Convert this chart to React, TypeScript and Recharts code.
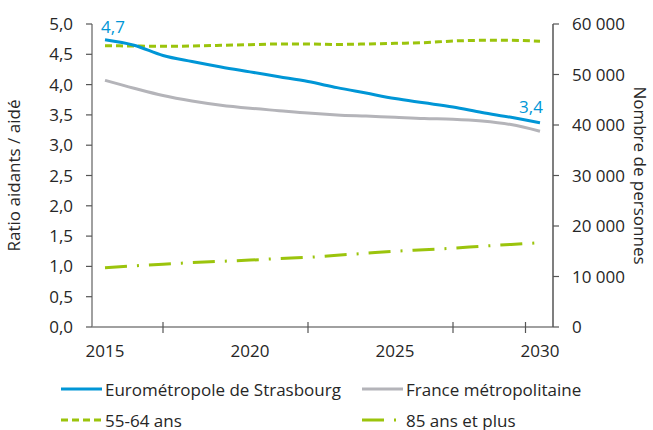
import React from "react";
import { LineChart, Line, XAxis, YAxis, LabelList, Text } from "recharts";

const years = [2015, 2016, 2017, 2018, 2019, 2020, 2021, 2022, 2023, 2024, 2025, 2026, 2027, 2028, 2029, 2030];
const eurometropole = [4.74, 4.65, 4.48, 4.38, 4.29, 4.21, 4.13, 4.05, 3.95, 3.86, 3.77, 3.7, 3.63, 3.54, 3.46, 3.37];
const france = [4.07, 3.94, 3.82, 3.73, 3.66, 3.61, 3.57, 3.53, 3.5, 3.48, 3.46, 3.44, 3.43, 3.4, 3.34, 3.23];
const age5564 = [55700, 55640, 55580, 55640, 55770, 55900, 56040, 56040, 55950, 56040, 56170, 56300, 56630, 56760, 56760, 56570];
const age85plus = [11750, 12100, 12450, 12750, 13000, 13250, 13550, 13800, 14200, 14600, 15000, 15300, 15600, 16000, 16350, 16700];

const yearLabels = [2015, 2020, 2025, 2030];
const yearMarks = [2017, 2022, 2027, 2029.5];
const ratioTicks = [0, 0.5, 1, 1.5, 2, 2.5, 3, 3.5, 4, 4.5, 5];
const peopleTicks = [0, 10000, 20000, 30000, 40000, 50000, 60000];

const BLUE = "#0096d6";
const GREY = "#b4b4b9";
const GREEN = "#9bc40c";
const TEXT = "#262626";
const FONT = "'Open Sans', sans-serif";

const data = years.map((year, i) => ({
  year,
  euro: eurometropole[i],
  france: france[i],
  a5564: age5564[i],
  a85: age85plus[i],
}));

const xTicks = [...yearLabels, ...yearMarks].sort((a, b) => a - b);

const fmtRatio = (v: number) => v.toFixed(1).replace(".", ",");
const fmtPeople = (v: number) => String(v).replace(/\B(?=(\d{3})+(?!\d))/g, " ");

// Excel puts the tick marks and the year labels at different places
const YearTick = (props: any) => {
  const { x, y, payload } = props;
  const v = payload.value;
  if (yearMarks.includes(v)) {
    return <line x1={x} y1={y - 5} x2={x} y2={y + 6} stroke="#555" strokeWidth={1.2} />;
  }
  return (
    <Text x={x} y={y + 18} textAnchor="middle" verticalAnchor="start" fill={TEXT} fontSize={17} fontFamily={FONT}>
      {String(v)}
    </Text>
  );
};

const EndLabel = (props: any) => {
  const { x, y, value, index } = props;
  if (index === 0) {
    return (
      <text x={x + 8} y={y - 7} fill={BLUE} fontSize={17} fontFamily={FONT} textAnchor="middle">
        {fmtRatio(value)}
      </text>
    );
  }
  if (index === years.length - 1) {
    return (
      <text x={x - 9} y={y - 10} fill={BLUE} fontSize={17} fontFamily={FONT} textAnchor="middle">
        {fmtRatio(value)}
      </text>
    );
  }
  return null;
};

const legendItems = [
  { label: "Eurométropole de Strasbourg", color: BLUE, dash: undefined, left: 61, top: 377 },
  { label: "France métropolitaine", color: GREY, dash: undefined, left: 362, top: 377 },
  { label: "55-64 ans", color: GREEN, dash: "7 4", left: 61, top: 408 },
  { label: "85 ans et plus", color: GREEN, dash: "22 10 2 10", left: 362, top: 408 },
];

export default function App() {
  return (
    <div style={{ position: "absolute", left: 0, top: 0, width: 653, height: 430, background: "#fff", fontFamily: FONT }}>
      <LineChart width={653} height={430} data={data} margin={{ top: 24, right: 0, bottom: 73, left: 0 }}>
        <XAxis
          dataKey="year"
          type="number"
          domain={[2015, 2030]}
          padding={{ left: 13, right: 13 }}
          ticks={xTicks}
          interval={0}
          height={30}
          tickLine={false}
          tickSize={0}
          tickMargin={0}
          axisLine={{ stroke: "#808080", strokeWidth: 1.5 }}
          tick={<YearTick />}
        />
        <YAxis
          yAxisId="left"
          width={92}
          domain={[0, 5]}
          ticks={ratioTicks}
          tickFormatter={fmtRatio}
          axisLine={{ stroke: "#808080", strokeWidth: 1.5 }}
          tickLine={{ stroke: "#555", strokeWidth: 1.2 }}
          tickSize={6}
          tickMargin={13}
          tick={{ fill: TEXT, fontSize: 17, fontFamily: FONT }}
          label={{
            value: "Ratio aidants / aidé",
            angle: -90,
            position: "insideLeft",
            offset: 14,
            textAnchor: "middle",
            fill: TEXT,
            fontSize: 17,
            fontFamily: FONT,
          }}
        />
        <YAxis
          yAxisId="right"
          orientation="right"
          width={100}
          domain={[0, 60000]}
          ticks={peopleTicks}
          tickFormatter={fmtPeople}
          axisLine={{ stroke: "#555", strokeWidth: 1.5 }}
          tickLine={{ stroke: "#555", strokeWidth: 1.2 }}
          tickSize={6}
          tickMargin={13}
          tick={{ fill: TEXT, fontSize: 17, fontFamily: FONT }}
          label={{
            value: "Nombre de personnes",
            angle: 90,
            position: "insideRight",
            offset: 13,
            textAnchor: "middle",
            fill: TEXT,
            fontSize: 17,
            fontFamily: FONT,
          }}
        />
        <Line
          yAxisId="right"
          type="monotone"
          dataKey="a5564"
          stroke={GREEN}
          strokeWidth={3}
          strokeDasharray="7 4"
          dot={false}
          isAnimationActive={false}
        />
        <Line
          yAxisId="right"
          type="monotone"
          dataKey="a85"
          stroke={GREEN}
          strokeWidth={3}
          strokeDasharray="22 10 2 10"
          dot={false}
          isAnimationActive={false}
        />
        <Line
          yAxisId="left"
          type="monotone"
          dataKey="france"
          stroke={GREY}
          strokeWidth={3}
          dot={false}
          isAnimationActive={false}
        />
        <Line
          yAxisId="left"
          type="monotone"
          dataKey="euro"
          stroke={BLUE}
          strokeWidth={3}
          dot={false}
          isAnimationActive={false}
        >
          <LabelList dataKey="euro" content={EndLabel} />
        </Line>
      </LineChart>
      {legendItems.map((item) => (
        <div
          key={item.label}
          style={{
            position: "absolute",
            left: item.left,
            top: item.top,
            height: 24,
            display: "flex",
            alignItems: "center",
            fontSize: 17,
            color: TEXT,
            whiteSpace: "nowrap",
          }}
        >
          <svg width={42} height={24} style={{ marginRight: 2 }}>
            <line x1={0} y1={12} x2={41} y2={12} stroke={item.color} strokeWidth={3} strokeDasharray={item.dash} />
          </svg>
          <span>{item.label}</span>
        </div>
      ))}
    </div>
  );
}
